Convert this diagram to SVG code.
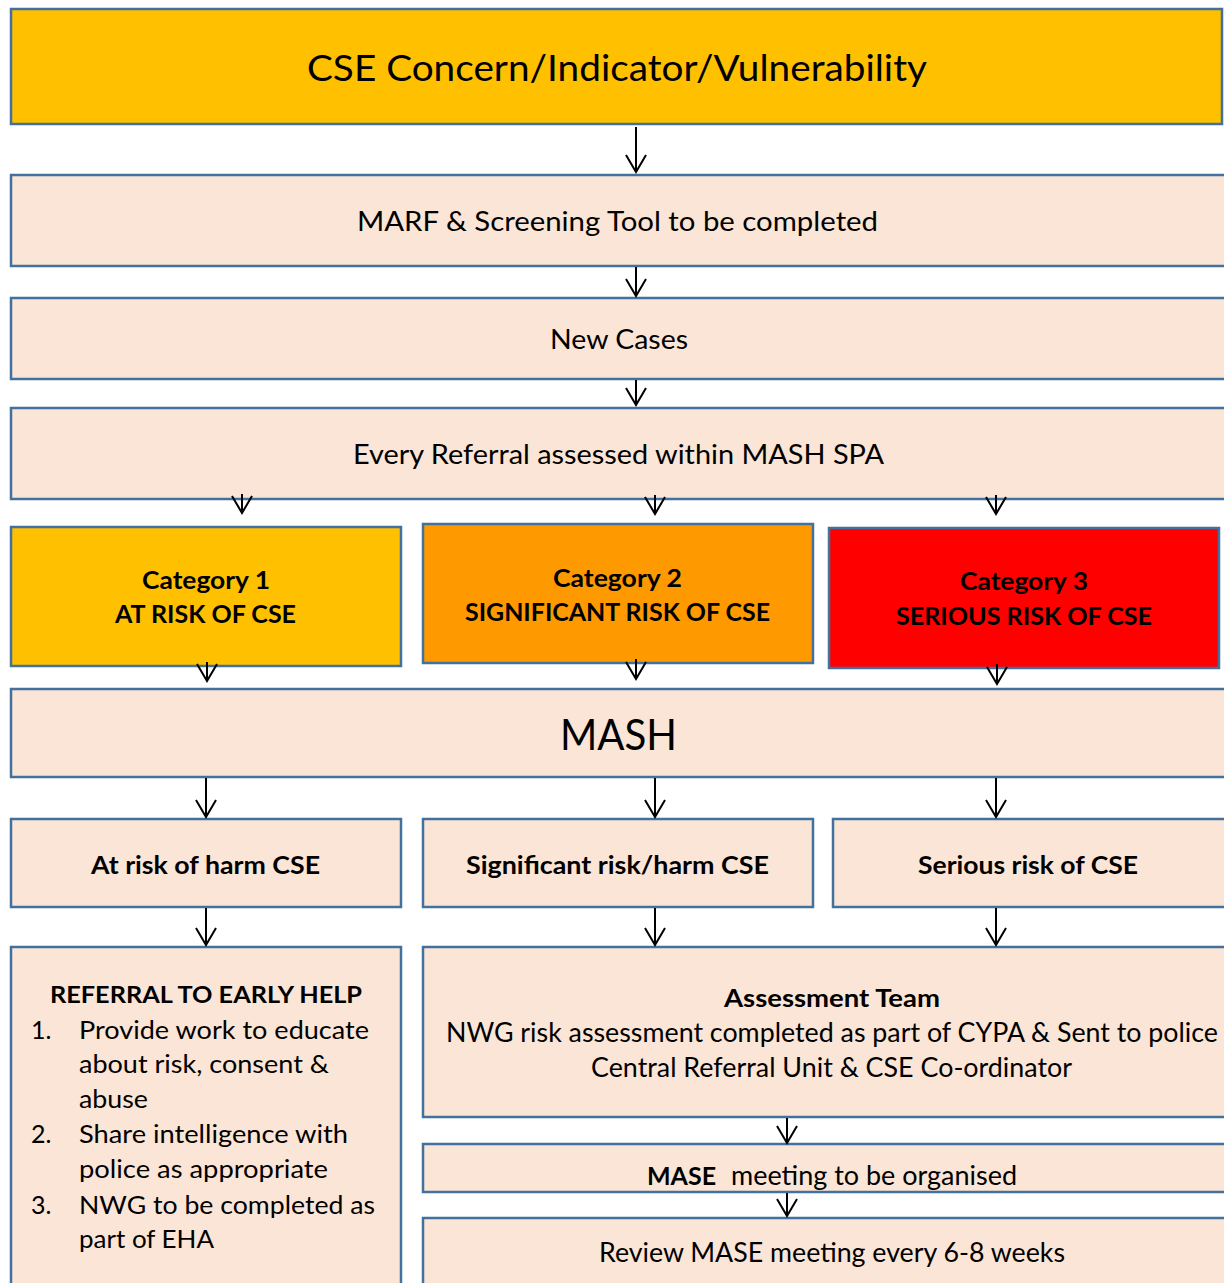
<svg xmlns="http://www.w3.org/2000/svg" width="1224" height="1283" viewBox="0 0 1224 1283">
<style>
.b{stroke:#41719C;stroke-width:2.5}
.y{fill:#FFC000}.o{fill:#FF9900}.r{fill:#FF0000}.p{fill:#FBE5D6}
text{font-family:Lato,"Open Sans","Liberation Sans",sans-serif;fill:#000}
.t{font-size:26px}
.c{text-anchor:middle}
.bd{font-weight:bold}
.con path{fill:none;stroke:#000;stroke-width:2}
</style>
<defs>
<marker id="ah" viewBox="0 0 20 22" refX="18" refY="11" markerWidth="20" markerHeight="22" orient="auto" markerUnits="userSpaceOnUse">
<path d="M1,1 L18,11 L1,21" fill="none" stroke="#000" stroke-width="2"/>
</marker>
</defs>
<rect width="1224" height="1283" fill="#fff"/>

<g id="concern">
<rect class="b y" x="11" y="9" width="1211" height="115"/>
<text class="c" x="617" y="81" font-size="37" textLength="620" lengthAdjust="spacingAndGlyphs">CSE Concern/Indicator/Vulnerability</text>
</g>
<g id="marf">
<rect class="b p" x="11" y="175" width="1225" height="91"/>
<text class="t c" x="617.5" y="231" textLength="521" lengthAdjust="spacingAndGlyphs">MARF &amp; Screening Tool to be completed</text>
</g>
<g id="newcases">
<rect class="b p" x="11" y="298" width="1225" height="81"/>
<text class="t c" x="619" y="349" textLength="138" lengthAdjust="spacingAndGlyphs">New Cases</text>
</g>
<g id="referral">
<rect class="b p" x="11" y="408" width="1225" height="91"/>
<text class="t c" x="618.5" y="464" textLength="531" lengthAdjust="spacingAndGlyphs">Every Referral assessed within MASH SPA</text>
</g>
<g id="cat1">
<rect class="b y" x="11" y="527" width="390" height="139"/>
<text class="c bd" x="206" y="589" font-size="24" textLength="128" lengthAdjust="spacingAndGlyphs">Category 1</text>
<text class="c bd" x="205.5" y="623" font-size="24" textLength="181" lengthAdjust="spacingAndGlyphs">AT RISK OF CSE</text>
</g>
<g id="cat2">
<rect class="b o" x="423" y="524" width="390" height="139"/>
<text class="c bd" x="617.5" y="587" font-size="24" textLength="129" lengthAdjust="spacingAndGlyphs">Category 2</text>
<text class="c bd" x="617.5" y="621" font-size="24" textLength="305" lengthAdjust="spacingAndGlyphs">SIGNIFICANT RISK OF CSE</text>
</g>
<g id="cat3">
<rect class="b r" x="829" y="528" width="390" height="140"/>
<text class="c bd" x="1024" y="590" font-size="24" textLength="128" lengthAdjust="spacingAndGlyphs">Category 3</text>
<text class="c bd" x="1024" y="625" font-size="24" textLength="256" lengthAdjust="spacingAndGlyphs">SERIOUS RISK OF CSE</text>
</g>
<g id="mash">
<rect class="b p" x="11" y="689" width="1225" height="88"/>
<text class="c" x="618.5" y="750" font-size="42" textLength="117" lengthAdjust="spacingAndGlyphs">MASH</text>
</g>
<g id="harm1">
<rect class="b p" x="11" y="819" width="390" height="88"/>
<text class="c bd" x="205.5" y="874" font-size="24" textLength="229" lengthAdjust="spacingAndGlyphs">At risk of harm CSE</text>
</g>
<g id="harm2">
<rect class="b p" x="423" y="819" width="390" height="88"/>
<text class="c bd" x="617.5" y="874" font-size="24" textLength="303" lengthAdjust="spacingAndGlyphs">Significant risk/harm CSE</text>
</g>
<g id="harm3">
<rect class="b p" x="833" y="819" width="403" height="88"/>
<text class="c bd" x="1028" y="874" font-size="24" textLength="220" lengthAdjust="spacingAndGlyphs">Serious risk of CSE</text>
</g>
<g id="earlyhelp">
<rect class="b p" x="11" y="947" width="390" height="345"/>
<text class="c bd" x="206" y="1003" font-size="23" textLength="312" lengthAdjust="spacingAndGlyphs">REFERRAL TO EARLY HELP</text>
<g font-size="25">
<text x="31" y="1039">1.</text>
<text x="79" y="1039" textLength="290" lengthAdjust="spacingAndGlyphs">Provide work to educate</text>
<text x="79" y="1073" textLength="250" lengthAdjust="spacingAndGlyphs">about risk, consent &amp;</text>
<text x="79" y="1108" textLength="69" lengthAdjust="spacingAndGlyphs">abuse</text>
<text x="31" y="1143">2.</text>
<text x="79" y="1143" textLength="269" lengthAdjust="spacingAndGlyphs">Share intelligence with</text>
<text x="79" y="1178" textLength="249" lengthAdjust="spacingAndGlyphs">police as appropriate</text>
<text x="31" y="1214">3.</text>
<text x="79" y="1214" textLength="296" lengthAdjust="spacingAndGlyphs">NWG to be completed as</text>
<text x="79" y="1248" textLength="135" lengthAdjust="spacingAndGlyphs">part of EHA</text>
</g>
</g>
<g id="assessment">
<rect class="b p" x="423" y="947" width="813" height="170"/>
<text class="c bd" x="832" y="1007" font-size="24" textLength="216" lengthAdjust="spacingAndGlyphs">Assessment Team</text>
<text class="t c" x="832" y="1042" textLength="772" lengthAdjust="spacingAndGlyphs">NWG risk assessment completed as part of CYPA &amp; Sent to police</text>
<text class="t c" x="831.5" y="1077" textLength="481" lengthAdjust="spacingAndGlyphs">Central Referral Unit &amp; CSE Co-ordinator</text>
</g>
<g id="mase">
<rect class="b p" x="423" y="1144" width="813" height="48"/>
<text class="t" y="1185"><tspan class="bd" x="647" font-size="24" textLength="69" lengthAdjust="spacingAndGlyphs">MASE</tspan><tspan x="731" textLength="286" lengthAdjust="spacingAndGlyphs">meeting to be organised</tspan></text>
</g>
<g id="review">
<rect class="b p" x="423" y="1218" width="813" height="80"/>
<text class="t c" x="832" y="1262" textLength="466" lengthAdjust="spacingAndGlyphs">Review MASE meeting every 6-8 weeks</text>
</g>

<g id="connectors" class="con">
<path d="M636,127 V172" marker-end="url(#ah)"/>
<path d="M636,267 V296" marker-end="url(#ah)"/>
<path d="M636,380 V405" marker-end="url(#ah)"/>
<path d="M242,494 V513" marker-end="url(#ah)"/>
<path d="M655,495 V514" marker-end="url(#ah)"/>
<path d="M996,495 V514" marker-end="url(#ah)"/>
<path d="M207,662 V681" marker-end="url(#ah)"/>
<path d="M636,659 V679" marker-end="url(#ah)"/>
<path d="M997,664 V684" marker-end="url(#ah)"/>
<path d="M206,778 V817" marker-end="url(#ah)"/>
<path d="M655,778 V817" marker-end="url(#ah)"/>
<path d="M996,778 V817" marker-end="url(#ah)"/>
<path d="M206,908 V945" marker-end="url(#ah)"/>
<path d="M655,908 V945" marker-end="url(#ah)"/>
<path d="M996,908 V945" marker-end="url(#ah)"/>
<path d="M787,1118 V1143" marker-end="url(#ah)"/>
<path d="M787,1193 V1216" marker-end="url(#ah)"/>
</g>
</svg>
